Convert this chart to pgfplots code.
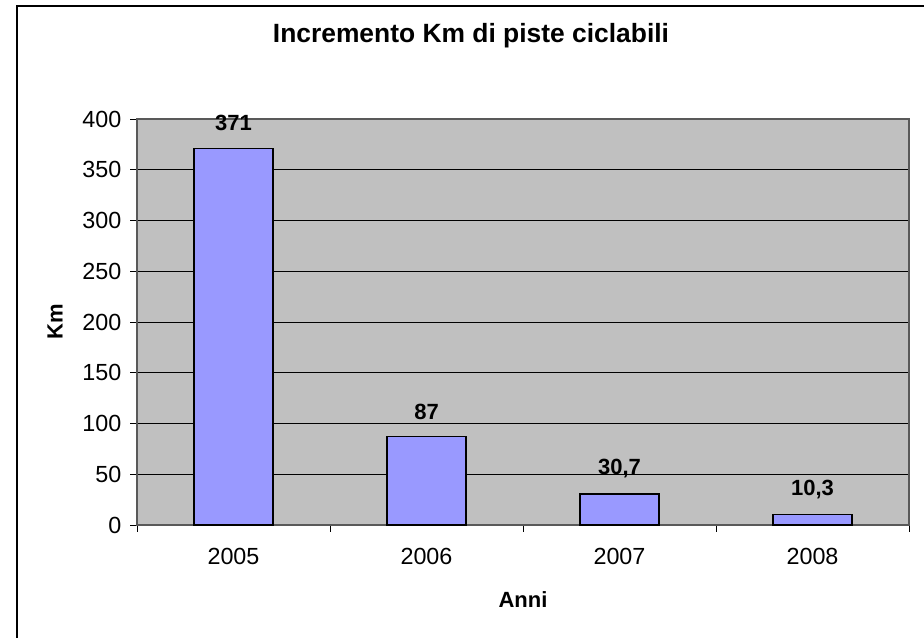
\documentclass[border=0pt]{standalone}
\usepackage{fontspec}
\setmainfont{Liberation Sans}
\usepackage{pgfplots}
\pgfplotsset{compat=1.18}
\definecolor{plotbg}{HTML}{C0C0C0}
\definecolor{barfill}{HTML}{9999FF}
\begin{document}
\begin{tikzpicture}
\useasboundingbox (0,0) rectangle (693pt,478.5pt);
\draw[line width=0.9pt] (12.75pt,0) -- (12.75pt,474pt) -- (693pt,474pt);
\begin{axis}[
  at={(102.75pt,84.75pt)}, anchor=south west,
  scale only axis, width=579pt, height=304.5pt,
  xmin=-0.5, xmax=3.5, ymin=0, ymax=400,
  ytick={0,50,...,400},
  xtick={-0.5,0.5,1.5,2.5,3.5}, xticklabels={},
  extra x ticks={0,1,2,3}, extra x tick labels={2005,2006,2007,2008},
  extra x tick style={major tick length=0pt, grid=none,
    xticklabel style={yshift=-14pt}},
  xtick pos=bottom, ytick pos=left,
  tick align=outside, major tick length=5.25pt,
  tick style={black, line width=0.7pt},
  axis line style={draw=black!65, line width=0.8pt},
  ymajorgrids, major grid style={black, line width=0.6pt},
  axis background/.style={fill=plotbg},
  ticklabel style={font=\fontsize{17.5}{20}\selectfont},
  yticklabel style={xshift=-3pt},
  /pgf/number format/assume math mode=true,
  clip=false,
  title={Incremento Km di piste ciclabili},
  title style={font=\bfseries\fontsize{19.8}{23}\selectfont, at={(axis description cs:0.4326,1.1847)}, anchor=center, yshift=0pt},
  xlabel={Anni},
  xlabel style={font=\bfseries\fontsize{16.5}{19}\selectfont, at={(axis description cs:0.5,-0.1847)}, anchor=center},
  ylabel={Km},
  ylabel style={font=\bfseries\fontsize{16.5}{19}\selectfont, at={(axis description cs:-0.1062,0.5)}, anchor=center},
  ybar, bar width=59.25pt, bar shift=0pt,
  nodes near coords, point meta=explicit symbolic,
  every node near coord/.append style={font=\bfseries\fontsize{16.5}{19}\selectfont, anchor=center, yshift=18.75pt},
]
\addplot[fill=barfill, draw=black, line width=1.1pt] coordinates {(0,371) [371] (1,87) [87] (2,30.7) [{30,7}] (3,10.3) [{10,3}]};
\end{axis}
\end{tikzpicture}
\end{document}
